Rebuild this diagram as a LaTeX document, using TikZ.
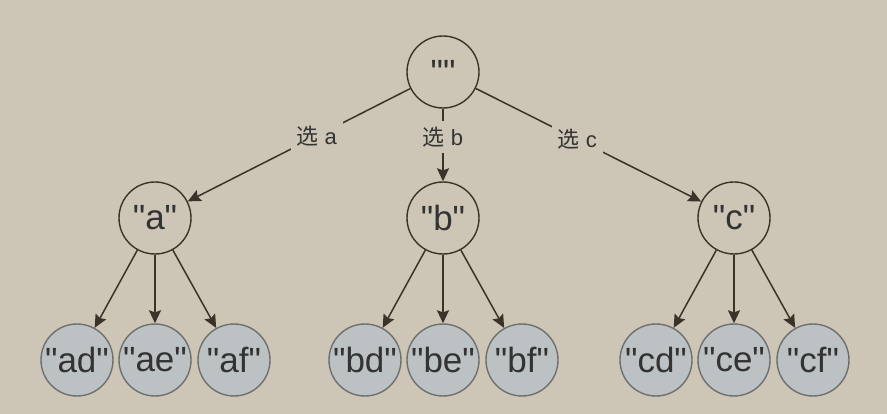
\documentclass[tikz,border=0pt]{standalone}
\usepackage{fontspec}
\setmainfont{Liberation Sans}
\newfontfamily\plainf{Liberation Sans}
\newfontfamily\cjk{Noto Sans CJK SC}
\usetikzlibrary{arrows.meta}
\definecolor{bgc}{HTML}{CDC6B6}
\definecolor{leaffill}{HTML}{BCC1C3}
\definecolor{edgec}{HTML}{3B3329}
\definecolor{leafline}{HTML}{6F6F6F}
\definecolor{txt}{HTML}{333333}
\begin{document}
\begin{tikzpicture}[x=1pt,y=-1pt,
  inner/.style={circle,draw=edgec,line width=1.4pt,minimum size=72pt,inner sep=0pt,text=txt,font=\plainf\fontsize{35}{35}\selectfont},
  leaf/.style={circle,draw=leafline,fill=leaffill,line width=1.4pt,minimum size=72pt,inner sep=0pt,text=txt,font=\plainf\fontsize{35}{35}\selectfont},
  conn/.style={draw=edgec,line width=1.5pt},
  arr/.style={conn,-{Stealth[length=13pt,width=12pt,inset=2pt]}},
  lbl/.style={fill=bgc,inner sep=6pt,text=txt,font=\plainf\fontsize{22}{22}\selectfont}
]
\fill[bgc] (0,0) rectangle (887,414);
\useasboundingbox (0,0) rectangle (887,414);
\node[inner] (r) at (443,72) {""};
\node[inner] (a) at (155,218) {"a"};
\node[inner] (b) at (443,218) {"b"};
\node[inner] (c) at (734,218) {"c"};
\node[leaf] (ad) at (77,360) {"ad"};
\node[leaf] (ae) at (155,360) {"ae"};
\node[leaf] (af) at (234,360) {"af"};
\node[leaf] (bd) at (365,360) {"bd"};
\node[leaf] (be) at (443,360) {"be"};
\node[leaf] (bf) at (522,360) {"bf"};
\node[leaf] (cd) at (656,360) {"cd"};
\node[leaf] (ce) at (734,360) {"ce"};
\node[leaf] (cf) at (813,360) {"cf"};
\draw[arr] (r) -- node[lbl,pos=0.42] (la) {{\cjk 选} a} (a);
\draw[arr] (r) -- node[lbl,pos=0.39] (lb) {{\cjk 选} b} (b);
\draw[arr] (r) -- node[lbl,pos=0.45] (lc) {{\cjk 选} c} (c);
\draw[arr] (a) -- (ad);
\draw[arr] (a) -- (ae);
\draw[arr] (a) -- (af);
\draw[arr] (b) -- (bd);
\draw[arr] (b) -- (be);
\draw[arr] (b) -- (bf);
\draw[arr] (c) -- (cd);
\draw[arr] (c) -- (ce);
\draw[arr] (c) -- (cf);
\end{tikzpicture}
\end{document}
